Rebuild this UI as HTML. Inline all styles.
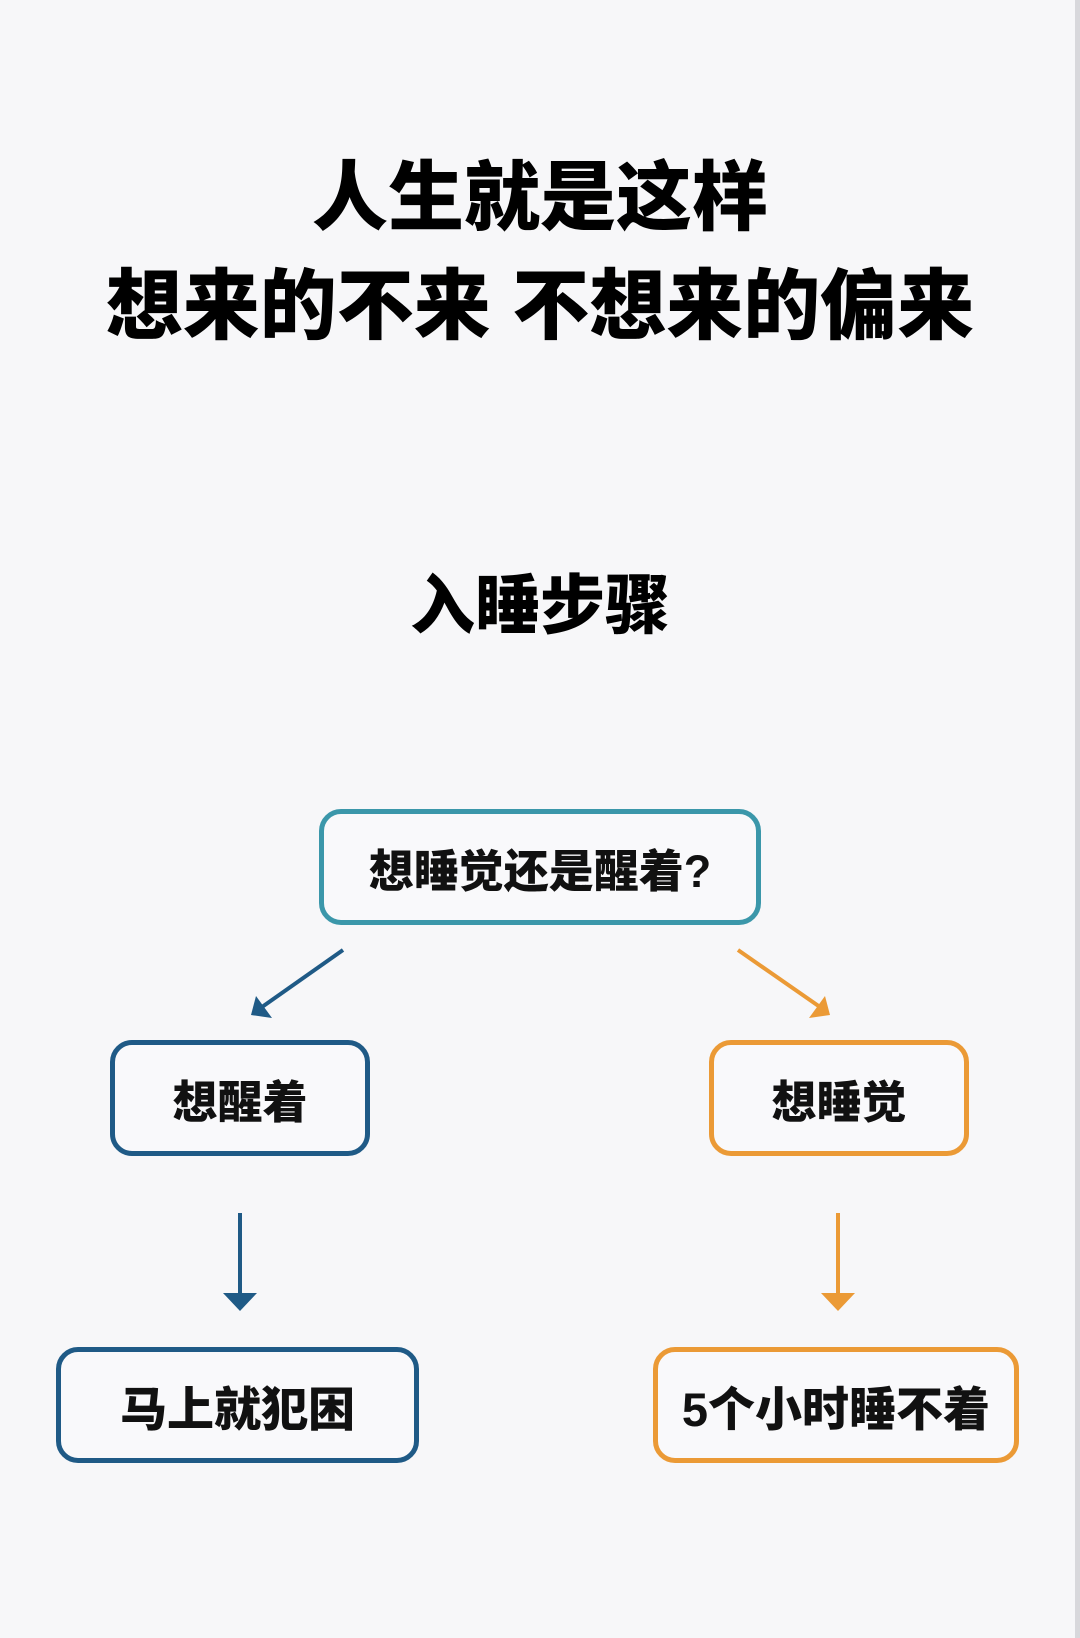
<!DOCTYPE html>
<html><head><meta charset="utf-8"><style>
html,body{margin:0;padding:0}
body{width:1080px;height:1638px;background:#f7f7f9;position:relative;overflow:hidden;font-family:"Liberation Sans","Noto Sans CJK SC",sans-serif;}
.t{position:absolute;left:0;width:1080px;text-align:center;font-weight:900;color:#000;white-space:nowrap}
.b{position:absolute;box-sizing:border-box;border:5px solid;border-radius:22px;display:flex;align-items:center;justify-content:center;font-weight:900;font-size:45px;color:#111;background:#f9f9fb}
.edge{position:absolute;right:0;top:0;width:5px;height:1638px;background:#d8d8dc}
</style></head><body>
<div class="edge"></div>
<div class="t" style="top:156px;font-size:76px;line-height:86px">人生就是这样</div>
<div class="t" style="top:264px;font-size:77px;line-height:86px">想来的不来 不想来的偏来</div>
<div class="t" style="top:569px;font-size:65px;line-height:74px">入睡步骤</div>

<div class="b" style="left:319px;top:809px;width:442px;height:116px;border-color:#3b97aa">想睡觉还是醒着?</div>
<div class="b" style="left:110px;top:1040px;width:260px;height:116px;border-color:#1f5a86">想醒着</div>
<div class="b" style="left:709px;top:1040px;width:260px;height:116px;border-color:#eb9a36">想睡觉</div>
<div class="b" style="left:56px;top:1347px;width:363px;height:116px;border-color:#1f5a86;font-size:47px">马上就犯困</div>
<div class="b" style="left:653px;top:1347px;width:366px;height:116px;border-color:#eb9a36;font-size:47px">5个小时睡不着</div>

<svg width="1080" height="1638" style="position:absolute;left:0;top:0">
<line x1="343" y1="950" x2="262" y2="1007" stroke="#1f5a86" stroke-width="4"/>
<polygon points="251,1015 256,996 272,1018" fill="#1f5a86"/>
<line x1="738" y1="950" x2="820" y2="1007" stroke="#eb9a36" stroke-width="4"/>
<polygon points="830,1015 825,996 809,1018" fill="#eb9a36"/>
<line x1="240" y1="1213" x2="240" y2="1295" stroke="#1f5a86" stroke-width="4"/>
<polygon points="223,1293 257,1293 240,1311" fill="#1f5a86"/>
<line x1="838" y1="1213" x2="838" y2="1295" stroke="#eb9a36" stroke-width="4"/>
<polygon points="821,1293 855,1293 838,1311" fill="#eb9a36"/>
</svg>
</body></html>
